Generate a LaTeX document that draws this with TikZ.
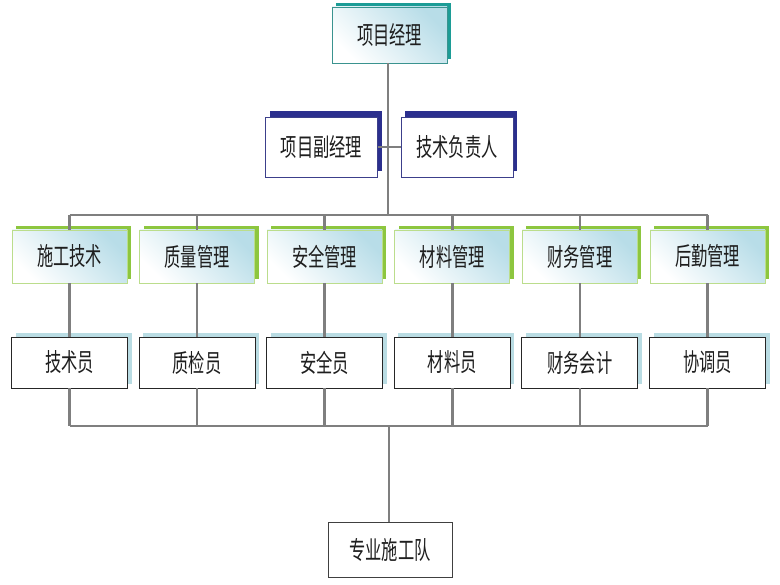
\documentclass[tikz,border=0pt]{standalone}
\usepackage{fontspec}
\newfontfamily\cjk{Noto Sans CJK SC}[FakeStretch=0.65]
\usetikzlibrary{shadows}
\definecolor{conn}{HTML}{7F7F7F}
\definecolor{tealsh}{HTML}{1C9C96}
\definecolor{navysh}{HTML}{2B2F8E}
\definecolor{greensh}{HTML}{8DC63F}
\definecolor{lbluesh}{HTML}{B9DCE3}
\definecolor{gradb}{HTML}{B8DDE8}
\definecolor{txt}{HTML}{1E1E1E}
\tikzset{
  box/.style={rectangle, inner sep=0pt, text=txt, font=\cjk\fontsize{25}{25}\selectfont},
  topbox/.style={box, draw=tealsh!70!gray, line width=0.8pt, minimum width=115pt, minimum height=56pt,
    left color=white, right color=gradb, shading angle=135,
    general shadow={shadow xshift=4pt, shadow yshift=4pt, fill=tealsh}},
  deputy/.style={box, draw=navysh!80!gray, line width=0.8pt, fill=white, minimum width=112pt, minimum height=60pt,
    general shadow={shadow xshift=4pt, shadow yshift=6pt, fill=navysh}},
  dept/.style={box, draw=greensh!60!white, line width=0.9pt, minimum width=115pt, minimum height=53pt,
    left color=white, right color=gradb, shading angle=135,
    general shadow={shadow xshift=4pt, shadow yshift=4pt, fill=greensh}},
  staff/.style={box, draw=black!85, line width=0.9pt, fill=white, minimum width=116pt, minimum height=51pt,
    general shadow={shadow xshift=4pt, shadow yshift=4pt, fill=lbluesh}},
  team/.style={box, draw=black!75, line width=0.9pt, fill=white, minimum width=124pt, minimum height=55pt},
  link/.style={draw=conn, line width=2.6pt}
}
\begin{document}
\begin{tikzpicture}[x=1pt,y=-1pt]
\useasboundingbox (0,0) rectangle (780,585);
\coordinate (busT) at (388,215);
\coordinate (busB) at (389,426);

\node[topbox] (pm) at (389.5,35) {项目经理};
\node[deputy] (dpm) at (321.5,147) {项目副经理};
\node[deputy] (tech) at (457,147) {技术负责人};

\node[dept] (d1) at (69.5,256.5) {施工技术};
\node[dept] (d2) at (197.1,256.5) {质量管理};
\node[dept] (d3) at (324.7,256.5) {安全管理};
\node[dept] (d4) at (452.3,256.5) {材料管理};
\node[dept] (d5) at (579.9,256.5) {财务管理};
\node[dept] (d6) at (707.5,256.5) {后勤管理};

\node[staff] (s1) at (69.5,362.5) {技术员};
\node[staff] (s2) at (197.1,362.5) {质检员};
\node[staff] (s3) at (324.7,362.5) {安全员};
\node[staff] (s4) at (452.3,362.5) {材料员};
\node[staff] (s5) at (579.9,362.5) {财务会计};
\node[staff] (s6) at (707.5,362.5) {协调员};

\node[team] (team) at (390,549.5) {专业施工队};

% connectors
\draw[link] (pm.south -| busT) -- (busT);
\draw[link] (dpm.east) -- (tech.west);
\draw[link] (d1.north |- busT) -- (d6.north |- busT);
\draw[link] (s1.south |- busB) -- (s6.south |- busB);
\draw[link] (busB) -- (team.north -| busB);
\foreach \i in {1,...,6}{
  \draw[link] (d\i.north |- busT) -- (d\i.north);
  \draw[link] (d\i.south) -- (s\i.north);
  \draw[link] (s\i.south) -- (s\i.south |- busB);
}
\end{tikzpicture}
\end{document}
